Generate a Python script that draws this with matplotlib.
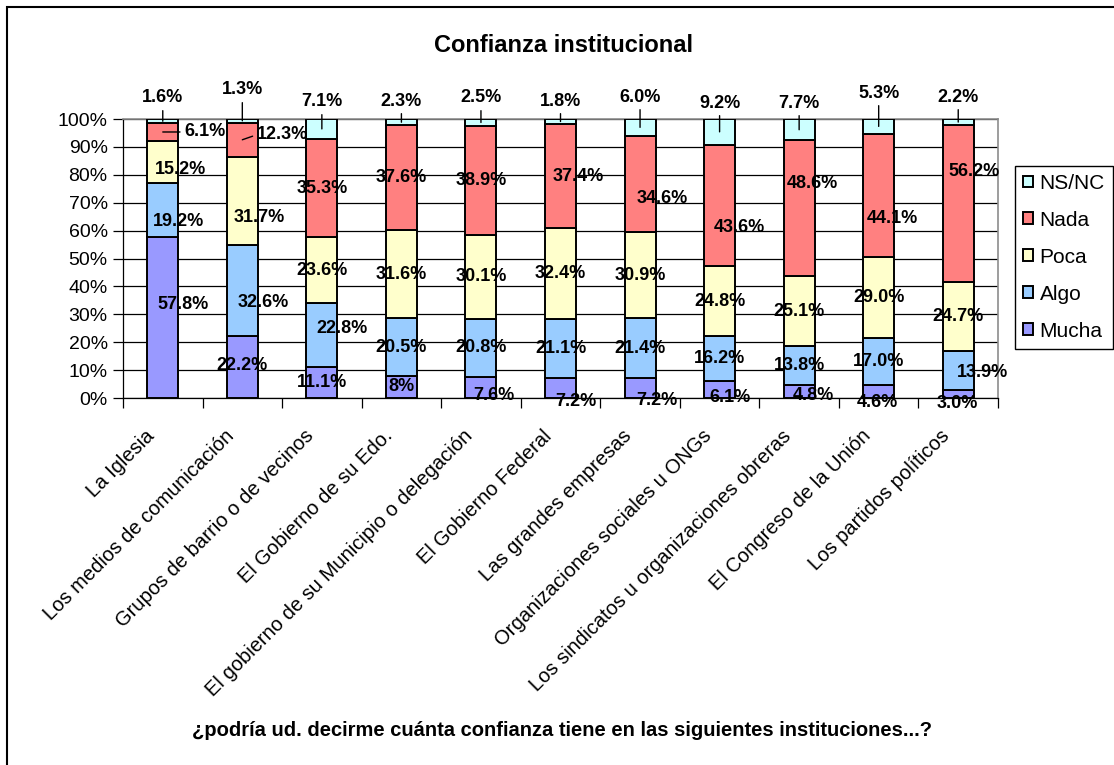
import numpy as np
import matplotlib
matplotlib.use("Agg")
import matplotlib.pyplot as plt
from matplotlib.patches import Rectangle
from matplotlib.transforms import ScaledTranslation

plt.rcParams["font.family"] = ["Liberation Sans", "DejaVu Sans"]

# --- datos -----------------------------------------------------------------
instituciones = [
    "La Iglesia",
    "Los medios de comunicación",
    "Grupos de barrio o de vecinos",
    "El Gobierno de su Edo.",
    "El gobierno de su Municipio o delegación",
    "El Gobierno Federal",
    "Las grandes empresas",
    "Organizaciones sociales u ONGs",
    "Los sindicatos u organizaciones obreras",
    "El Congreso de la Unión",
    "Los partidos políticos",
]
mucha = [57.8, 22.2, 11.1, 8.0, 7.6, 7.2, 7.2, 6.1, 4.8, 4.6, 3.0]
algo = [19.2, 32.6, 22.8, 20.5, 20.8, 21.1, 21.4, 16.2, 13.8, 17.0, 13.9]
poca = [15.2, 31.7, 23.6, 31.6, 30.1, 32.4, 30.9, 24.8, 25.1, 29.0, 24.7]
nada = [6.1, 12.3, 35.3, 37.6, 38.9, 37.4, 34.6, 43.6, 48.6, 44.1, 56.2]
nsnc = [1.6, 1.3, 7.1, 2.3, 2.5, 1.8, 6.0, 9.2, 7.7, 5.3, 2.2]

series = [
    ("Mucha", mucha, "#9999FF"),
    ("Algo", algo, "#99CCFF"),
    ("Poca", poca, "#FFFFCC"),
    ("Nada", nada, "#FF8080"),
    ("NS/NC", nsnc, "#CCFFFF"),
]

# desplazamientos de etiquetas (px a la derecha, px hacia abajo)
AJUSTE = {
    ("Mucha", 0): (20, -13), ("Mucha", 1): (0, -2),
    ("Mucha", 4): (13, -3), ("Mucha", 5): (15, 3), ("Mucha", 6): (17, 2),
    ("Mucha", 7): (10, -1), ("Mucha", 8): (14, -3), ("Mucha", 9): (-1, 4),
    ("Mucha", 10): (-1, 5),
    ("Algo", 0): (16, 12), ("Algo", 1): (21, 12), ("Algo", 2): (20, -7),
    ("Algo", 10): (24, 2),
    ("Poca", 0): (18, 8), ("Poca", 1): (17, 16),
    ("Nada", 0): (42, 0), ("Nada", 1): (40, -5), ("Nada", 5): (18, 0),
    ("Nada", 6): (22, 15), ("Nada", 7): (20, 22), ("Nada", 8): (13, -25),
    ("Nada", 9): (14, 23), ("Nada", 10): (16, -32),
}
CON_LINEA = [("Nada", 0), ("Nada", 1)]
# altura de las etiquetas NS/NC sobre el 100% (px)
ALTURA_NSNC = [21, 29, 17, 18, 21, 18, 22, 16, 16, 26, 22]
# ---------------------------------------------------------------------------


def formato(nombre, v):
    if nombre == "Mucha" and v == 8.0:
        return "8%"
    return f"{v:.1f}%"


def main():
    W, H = 1114, 765
    fig = plt.figure(figsize=(W / 100, H / 100), dpi=100)
    ax = fig.add_axes([123 / W, 1 - 398 / H, 875 / W, 279 / H])
    alto_ejes = 279

    x = np.arange(len(instituciones))
    datos = np.array([s[1] for s in series])
    pct = datos / datos.sum(axis=0) * 100

    base = np.zeros(len(x))
    for k, (nombre, valores, color) in enumerate(series):
        ax.bar(x, pct[k], 0.39, bottom=base, color=color, edgecolor="black",
               linewidth=1.4, label=nombre, zorder=3)
        for i, v in enumerate(valores):
            txt = formato(nombre, v)
            centro = base[i] + pct[k][i] / 2
            estilo = dict(fontsize=13, fontweight="bold", ha="center",
                          va="center", zorder=5, annotation_clip=False)
            if nombre == "NS/NC":
                ax.annotate(txt, xy=(i, centro),
                            xytext=(i, alto_ejes + ALTURA_NSNC[i]),
                            textcoords=("data", "axes pixels"),
                            arrowprops=dict(arrowstyle="-", color="black", lw=1,
                                            shrinkA=1, shrinkB=0, relpos=(0.5, 0)),
                            **estilo)
                continue
            if nombre == "Mucha" and v < 8:
                centro = 0
            dx, dy = AJUSTE.get((nombre, i), (0, 0))
            flecha = None
            if (nombre, i) in CON_LINEA:
                flecha = dict(arrowstyle="-", color="black", lw=1,
                              shrinkA=1, shrinkB=0, relpos=(0, 0.5))
            ax.annotate(txt, xy=(i, centro), xytext=(dx, -dy),
                        textcoords="offset pixels", arrowprops=flecha, **estilo)
        base += pct[k]

    ax.set_xlim(-0.5, len(x) - 0.5)
    ax.set_ylim(0, 100)
    ax.set_yticks(np.arange(0, 101, 10))
    ax.set_yticklabels([f"{t}%" for t in range(0, 101, 10)], fontsize=14)
    ax.yaxis.grid(True, color="black", linewidth=0.9, zorder=0)
    ax.set_axisbelow(True)
    ax.tick_params(axis="y", length=7, width=0.9, pad=4)

    ax.set_xticks(x)
    ax.set_xticklabels(instituciones, rotation=45, ha="right",
                       rotation_mode="anchor", fontsize=14.5)
    ax.tick_params(axis="x", length=0, pad=16)
    desplaza = ScaledTranslation(-18 / 100, -6 / 100, fig.dpi_scale_trans)
    for lbl in ax.get_xticklabels():
        lbl.set_transform(lbl.get_transform() + desplaza)
    ax.set_xticks(np.arange(-0.5, len(x), 1), minor=True)
    ax.tick_params(axis="x", which="minor", length=7, width=0.9)

    for lado in ["top", "right"]:
        ax.spines[lado].set_color("#8c8c8c")
        ax.spines[lado].set_linewidth(1.2)
    for lado in ["left", "bottom"]:
        ax.spines[lado].set_color("black")
        ax.spines[lado].set_linewidth(0.9)

    handles, labels = ax.get_legend_handles_labels()
    leg = fig.legend(handles[::-1], labels[::-1], loc="upper left",
                     bbox_to_anchor=(1015 / W, 1 - 166 / H), borderaxespad=0,
                     fontsize=15, handlelength=0.5, handleheight=0.5,
                     handletextpad=0.3, labelspacing=0.86, borderpad=0.38,
                     fancybox=False, edgecolor="black", framealpha=1)
    leg.get_frame().set_linewidth(1)

    fig.text(563 / W, 1 - 45 / H, "Confianza institucional", fontsize=17,
             fontweight="bold", ha="center", va="center")
    fig.text(562 / W, 1 - 731 / H,
             "¿podría ud. decirme cuánta confianza tiene en las siguientes instituciones...?",
             fontsize=14.5, fontweight="bold", ha="center", va="center")

    fig.patches.append(Rectangle((7 / W, -0.05), 1.2, 1 - 7 / H + 0.05,
                                 transform=fig.transFigure, fill=False,
                                 edgecolor="black", linewidth=1.5))

    fig.savefig("out.png", dpi=100)


if __name__ == "__main__":
    main()
